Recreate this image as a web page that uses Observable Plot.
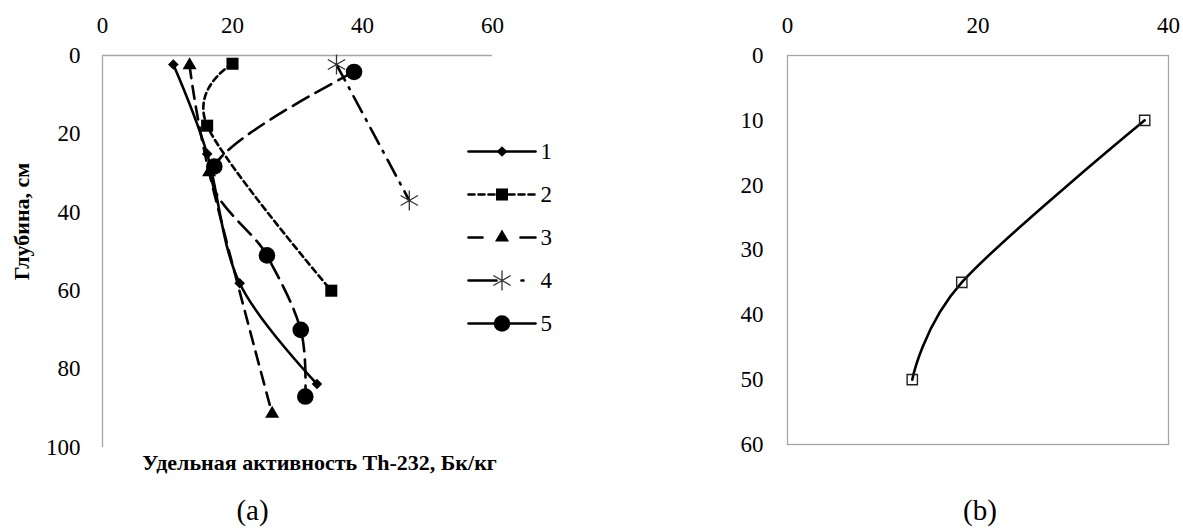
<!DOCTYPE html>
<html>
<head>
<meta charset="utf-8">
<script src="https://cdn.jsdelivr.net/npm/d3@7"></script>
<script src="https://cdn.jsdelivr.net/npm/@observablehq/plot@0.6"></script>
<style>
  html, body { margin: 0; padding: 0; background: #fff; }
  #page { position: relative; width: 1183px; height: 531px; overflow: hidden;
          font-family: "Liberation Serif", "Times New Roman", serif; }
  #page > svg { position: absolute; }
</style>
</head>
<body>
<div id="page"></div>
<script>
// ---- Panel (a): Th-232 specific activity (Bq/kg) against depth (cm), profiles 1–5 ----
const profileNames = ["1", "2", "3", "4", "5"];

const activity1 = [10.9, 16.1, 21.1, 33.0];
const depth1    = [2.3, 25.1, 58.1, 83.8];

const activity2 = [20.0, 16.1, 35.2];
const depth2    = [2.1, 17.9, 60.0];

const activity3 = [13.4, 16.4, 26.1];
const depth3    = [2.5, 29.8, 91.4];

const activity4 = [36.0, 47.2];
const depth4    = [2.3, 37.0];

const activity5 = [38.7, 17.2, 25.3, 30.5, 31.2];
const depth5    = [4.2, 28.3, 51.0, 70.0, 87.0];

const xTicksA = [0, 20, 40, 60];
const yTicksA = [0, 20, 40, 60, 80, 100];
const titleX = "Удельная активность Th-232, Бк/кг";
const titleY = "Глубина, см";

// ---- Panel (b): single profile ----
const activityB = [37.5, 18.3, 13.1];
const depthB    = [10, 35, 50];
const xTicksB = [0, 20, 40];
const yTicksB = [0, 10, 20, 30, 40, 50, 60];

// ---- styling ----
const font = "'Liberation Serif', 'Times New Roman', serif";
const axisGray = "#a6a6a6";
// uniform Catmull–Rom (spreadsheet-style smoothed line)
const smooth = d3.curveCatmullRom.alpha(0);
const profileStyle = {
  "1": {dash: null,       symbol: "diamond2", r: 4.8, fill: "#000", stroke: "none"},
  "2": {dash: "6,4",      symbol: "square",   r: 6.8, fill: "#000", stroke: "none"},
  "3": {dash: "13,8",     symbol: "triangle", r: 5.2, fill: "#000", stroke: "none"},
  "4": {dash: "18,8,2,8", symbol: "asterisk", r: 9.5, fill: "none", stroke: "#333"},
  "5": {dash: "18,8",     symbol: "circle",   r: 8.3, fill: "#000", stroke: "none"}
};
const legendDash = {"1": null, "2": "6,4", "3": "14,38,15", "4": "28,25,2,30", "5": null};

const columns = {
  "1": [activity1, depth1], "2": [activity2, depth2], "3": [activity3, depth3],
  "4": [activity4, depth4], "5": [activity5, depth5]
};
const rowsOf = name => columns[name][0].map((a, i) => ({profile: name, activity: a, depth: columns[name][1][i]}));

const baseStyle = {fontFamily: font, fontSize: "23px", color: "#000", background: "transparent", overflow: "visible"};

const profileMarks = profileNames.flatMap(name => {
  const rows = rowsOf(name);
  const s = profileStyle[name];
  return [
    Plot.line(rows, {x: "activity", y: "depth", stroke: "#000", strokeWidth: 2.6,
      strokeDasharray: s.dash ?? undefined, curve: rows.length > 2 ? smooth : "linear"}),
    Plot.dot(rows, {x: "activity", y: "depth", symbol: s.symbol, r: s.r,
      fill: s.fill, stroke: s.stroke, strokeWidth: 1.3})
  ];
});

const plotA = Plot.plot({
  width: 600, height: 531,
  marginLeft: 102, marginRight: 108, marginTop: 55, marginBottom: 84,
  style: baseStyle,
  x: {domain: [0, 60]},
  y: {domain: [0, 100], reverse: true},
  marks: [
    Plot.ruleY([0], {stroke: axisGray, strokeWidth: 1.3}),
    Plot.ruleX([0], {stroke: axisGray, strokeWidth: 1.3}),
    Plot.axisX({anchor: "top", ticks: xTicksA, tickSize: 0, tickPadding: 23, label: null}),
    Plot.axisY({anchor: "left", ticks: yTicksA, tickSize: 0, tickPadding: 22, label: null}),
    ...profileMarks,
    Plot.text([titleX], {text: d => d, frameAnchor: "bottom", dx: 22, dy: 22,
      fontWeight: "bold", fontSize: 22, fill: "#000"}),
    Plot.text([titleY], {text: d => d, frameAnchor: "left", textAnchor: "middle", dx: -81, dy: -30,
      rotate: -90, fontWeight: "bold", fontSize: 22, fill: "#000"}),
    Plot.text(["(a)"], {text: d => d, frameAnchor: "bottom", dx: -45, dy: 72, fontSize: 29, fill: "#000"})
  ]
});
plotA.style.left = "0px";
plotA.style.top = "0px";

// legend for panel (a)
const legendMarks = profileNames.flatMap(name => {
  const s = profileStyle[name];
  return [
    Plot.line([{p: 0, n: name}, {p: 1, n: name}], {x: "p", y: "n", stroke: "#000", strokeWidth: 2.6,
      strokeDasharray: legendDash[name] ?? undefined}),
    Plot.dot([{p: 0.5, n: name}], {x: "p", y: "n", symbol: s.symbol, r: s.r,
      fill: s.fill, stroke: s.stroke, strokeWidth: 1.3})
  ];
});
const legend = Plot.plot({
  width: 130, height: 215, margin: 0,
  style: baseStyle,
  x: {domain: [0, 1], range: [8, 75], axis: null},
  y: {type: "point", domain: profileNames, range: [20, 193], padding: 0, axis: null},
  marks: [
    ...legendMarks,
    Plot.text(profileNames, {x: () => 1, y: d => d, text: d => d, dx: 5, textAnchor: "start", fill: "#000"})
  ]
});
legend.style.left = "460px";
legend.style.top = "130px";

const rowsB = activityB.map((a, i) => ({activity: a, depth: depthB[i]}));
const plotB = Plot.plot({
  width: 483, height: 531,
  marginLeft: 87, marginRight: 15, marginTop: 55, marginBottom: 87,
  style: baseStyle,
  x: {domain: [0, 40]},
  y: {domain: [0, 60], reverse: true},
  marks: [
    Plot.frame({stroke: axisGray, strokeWidth: 1.3}),
    Plot.axisX({anchor: "top", ticks: xTicksB, tickSize: 0, tickPadding: 23, label: null}),
    Plot.axisY({anchor: "left", ticks: yTicksB, tickSize: 0, tickPadding: 24, label: null}),
    Plot.line(rowsB, {x: "activity", y: "depth", stroke: "#000", strokeWidth: 2.6, curve: smooth}),
    Plot.dot(rowsB, {x: "activity", y: "depth", symbol: "square", r: 5.8, fill: "none", stroke: "#222", strokeWidth: 1.4}),
    Plot.text(["(b)"], {text: d => d, frameAnchor: "bottom", dx: 2, dy: 75, fontSize: 29, fill: "#000"})
  ]
});
plotB.style.left = "700px";
plotB.style.top = "0px";

const page = document.getElementById("page");
page.append(plotA, plotB, legend);
</script>
</body>
</html>
